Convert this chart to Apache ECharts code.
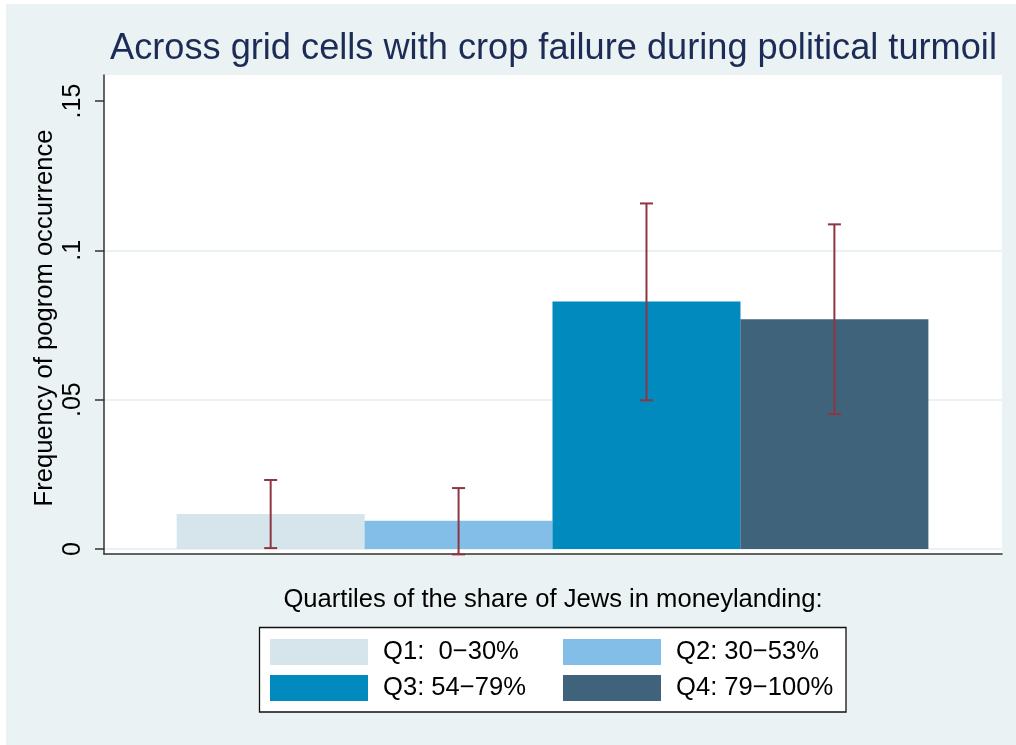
<!DOCTYPE html>
<html>
<head>
<meta charset="utf-8">
<script src="https://cdn.jsdelivr.net/npm/echarts@6/dist/echarts.min.js"></script>
<style>
  html, body { margin: 0; padding: 0; background: #fff; }
  #chart { width: 1016px; height: 745px; }
</style>
</head>
<body>
<div id="chart"></div>
<script>
// quartile groups, bar heights and 95% interval ends
const categories = ['Q1:  0\u221230%', 'Q2: 30\u221253%', 'Q3: 54\u221279%', 'Q4: 79\u2212100%'];
const means = [0.0117, 0.0095, 0.0829, 0.0769];
const lower = [0.0003, -0.0018, 0.0498, 0.0452];
const upper = [0.0231, 0.0204, 0.1157, 0.1087];
const yTicks = [0, 0.05, 0.1, 0.15];
const yTickLabels = ['0', '.05', '.1', '.15'];
const colors = ['#d6e4eb', '#83bee8', '#008abd', '#3e637b'];

const font = "'Liberation Sans', Arial, sans-serif";
const chart = echarts.init(document.getElementById('chart'));

const barSeries = categories.map((name, i) => ({
  name: name,
  type: 'bar',
  xAxisIndex: 1,
  yAxisIndex: 1,
  data: [[i + 1, means[i]]],
  barWidth: 188,
  barGap: '-100%',
  itemStyle: { color: colors[i] },
  z: 3
}));

const errorSeries = {
  type: 'custom',
  xAxisIndex: 1,
  yAxisIndex: 1,
  z: 5,
  silent: true,
  data: categories.map((c, i) => [i + 1, lower[i], upper[i]]),
  renderItem: (params, api) => {
    const lo = api.coord([api.value(0), api.value(1)]);
    const hi = api.coord([api.value(0), api.value(2)]);
    const cap = 6.5;
    const style = { stroke: '#8f3540', lineWidth: 2 };
    return {
      type: 'group',
      children: [
        { type: 'line', shape: { x1: hi[0], y1: hi[1], x2: lo[0], y2: lo[1] }, style: style },
        { type: 'line', shape: { x1: hi[0] - cap, y1: hi[1], x2: hi[0] + cap, y2: hi[1] }, style: style },
        { type: 'line', shape: { x1: lo[0] - cap, y1: lo[1], x2: lo[0] + cap, y2: lo[1] }, style: style }
      ]
    };
  }
};

const legendCommon = {
  orient: 'vertical',
  padding: 0,
  itemWidth: 98,
  itemHeight: 26,
  itemGap: 10,
  icon: 'rect',
  selectedMode: false,
  textStyle: { fontSize: 25.6, color: '#000', fontFamily: font, padding: [0, 0, 0, 10] }
};

const option = {
  backgroundColor: '#fff',
  animation: false,
  textStyle: { fontFamily: font },
  title: {
    text: 'Across grid cells with crop failure during political turmoil',
    left: 110,
    top: 31,
    padding: 0,
    textStyle: { fontSize: 36.2, fontWeight: 'normal', color: '#1d2c57', fontFamily: font }
  },
  graphic: [
    { type: 'rect', z: -10, silent: true, shape: { x: 6, y: 4, width: 1010, height: 741 }, style: { fill: '#eaf2f3' } },
    { type: 'rect', z: 1, silent: true, shape: { x: 259.5, y: 627.5, width: 586.5, height: 84.5 }, style: { fill: '#fff', stroke: '#111', lineWidth: 1.3 } }
  ],
  legend: [
    Object.assign({ left: 270, top: 639, data: [categories[0], categories[2]] }, legendCommon),
    Object.assign({ left: 563, top: 639, data: [categories[1], categories[3]] }, legendCommon)
  ],
  grid: [
    // frame: white plot region with the axis lines
    { left: 104, right: 14, top: 75, bottom: 191, show: true, backgroundColor: '#fff', borderWidth: 0 },
    // data region: 0 to .15
    { left: 104, right: 14, top: 101, bottom: 196 }
  ],
  xAxis: [
    {
      gridIndex: 0, type: 'value', min: 0, max: 1,
      axisLine: { show: true, onZero: false, lineStyle: { color: '#333', width: 1.5 } },
      axisTick: { show: false }, axisLabel: { show: false }, splitLine: { show: false },
      name: 'Quartiles of the share of Jews in moneylanding:',
      nameLocation: 'middle',
      nameGap: 33,
      nameTextStyle: { fontSize: 25.6, color: '#000', fontFamily: font }
    },
    {
      gridIndex: 1, type: 'value', min: 0.113, max: 4.892, show: false
    }
  ],
  yAxis: [
    {
      gridIndex: 0, type: 'value', min: 0, max: 1,
      axisLine: { show: true, onZero: false, lineStyle: { color: '#333', width: 1.5 } },
      axisTick: { show: false }, axisLabel: { show: false }, splitLine: { show: false },
      name: 'Frequency of pogrom occurrence',
      nameLocation: 'middle',
      nameGap: 46,
      nameTextStyle: { fontSize: 25.6, color: '#000', fontFamily: font, padding: [0, 7, 0, 0] }
    },
    {
      gridIndex: 1, type: 'value',
      min: yTicks[0], max: yTicks[yTicks.length - 1], interval: 0.05,
      axisLine: { show: false },
      axisTick: { show: true, length: 9, lineStyle: { color: '#333', width: 1.5 } },
      axisLabel: {
        rotate: 90, margin: 18, fontSize: 25, color: '#000', fontFamily: font,
        formatter: (v) => {
          const k = yTicks.findIndex(t => Math.abs(t - v) < 1e-9);
          return k >= 0 ? yTickLabels[k] : '';
        }
      },
      splitLine: { show: true, showMaxLine: false, lineStyle: { color: '#eaf2f3', width: 2 } }
    }
  ],
  series: barSeries.concat([errorSeries])
};

chart.setOption(option);
</script>
</body>
</html>
